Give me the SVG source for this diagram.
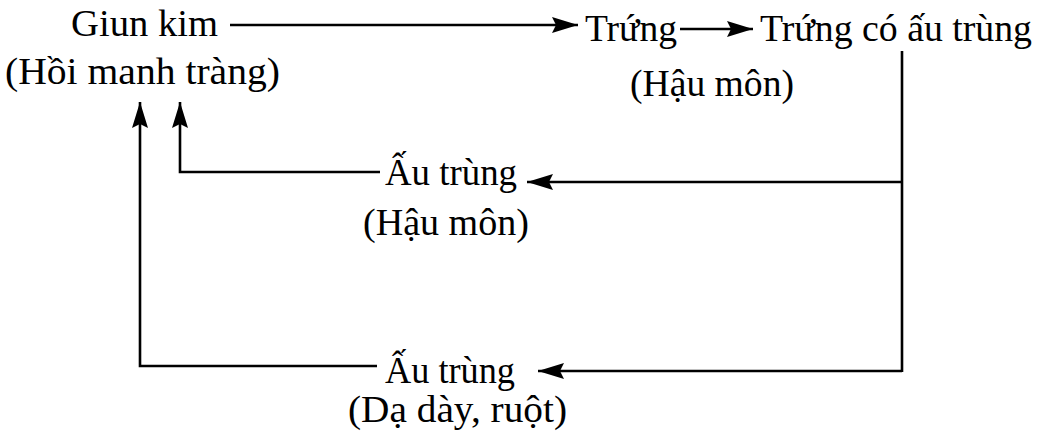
<svg xmlns="http://www.w3.org/2000/svg" width="1042" height="441" viewBox="0 0 1042 441">
<style>
text{font-family:"Liberation Serif","Times New Roman",serif;font-size:37px;fill:#000}
.c{fill:none;stroke:#000;stroke-width:2.6}
</style>
<defs>
<marker id="ah" markerUnits="userSpaceOnUse" markerWidth="30" markerHeight="20" refX="26" refY="8" orient="auto" overflow="visible">
<path d="M0,0 L26,8 L0,16 L4,8 z" fill="#000"/>
</marker>
</defs>
<rect width="1042" height="441" fill="#fff"/>
<g id="connectors">
<path class="c" d="M230,25 H578" marker-end="url(#ah)"/>
<path class="c" d="M680,29 H753" marker-end="url(#ah)"/>
<path class="c" d="M902,51 V372"/>
<path class="c" d="M902,182 H527" marker-end="url(#ah)"/>
<path class="c" d="M380,172 H180 V102" marker-end="url(#ah)"/>
<path class="c" d="M902,371 H538" marker-end="url(#ah)"/>
<path class="c" d="M377,366 H140 V102" marker-end="url(#ah)"/>
</g>
<g id="giun-kim">
<text x="71" y="36" textLength="147" lengthAdjust="spacingAndGlyphs">Giun kim</text>
<text x="5" y="84" textLength="275" lengthAdjust="spacingAndGlyphs">(Hồi manh tràng)</text>
</g>
<g id="trung">
<text x="585" y="41" textLength="92" lengthAdjust="spacingAndGlyphs">Trứng</text>
<text x="630" y="96" textLength="164" lengthAdjust="spacingAndGlyphs">(Hậu môn)</text>
</g>
<g id="trung-co-au-trung">
<text x="760" y="41" textLength="272" lengthAdjust="spacingAndGlyphs">Trứng có ấu trùng</text>
</g>
<g id="au-trung-hau-mon">
<text x="385" y="185" textLength="132" lengthAdjust="spacingAndGlyphs">Ấu trùng</text>
<text x="363" y="235" textLength="166" lengthAdjust="spacingAndGlyphs">(Hậu môn)</text>
</g>
<g id="au-trung-da-day">
<text x="385" y="383" textLength="130" lengthAdjust="spacingAndGlyphs">Ấu trùng</text>
<text x="348" y="422" textLength="219" lengthAdjust="spacingAndGlyphs">(Dạ dày, ruột)</text>
</g>
</svg>
